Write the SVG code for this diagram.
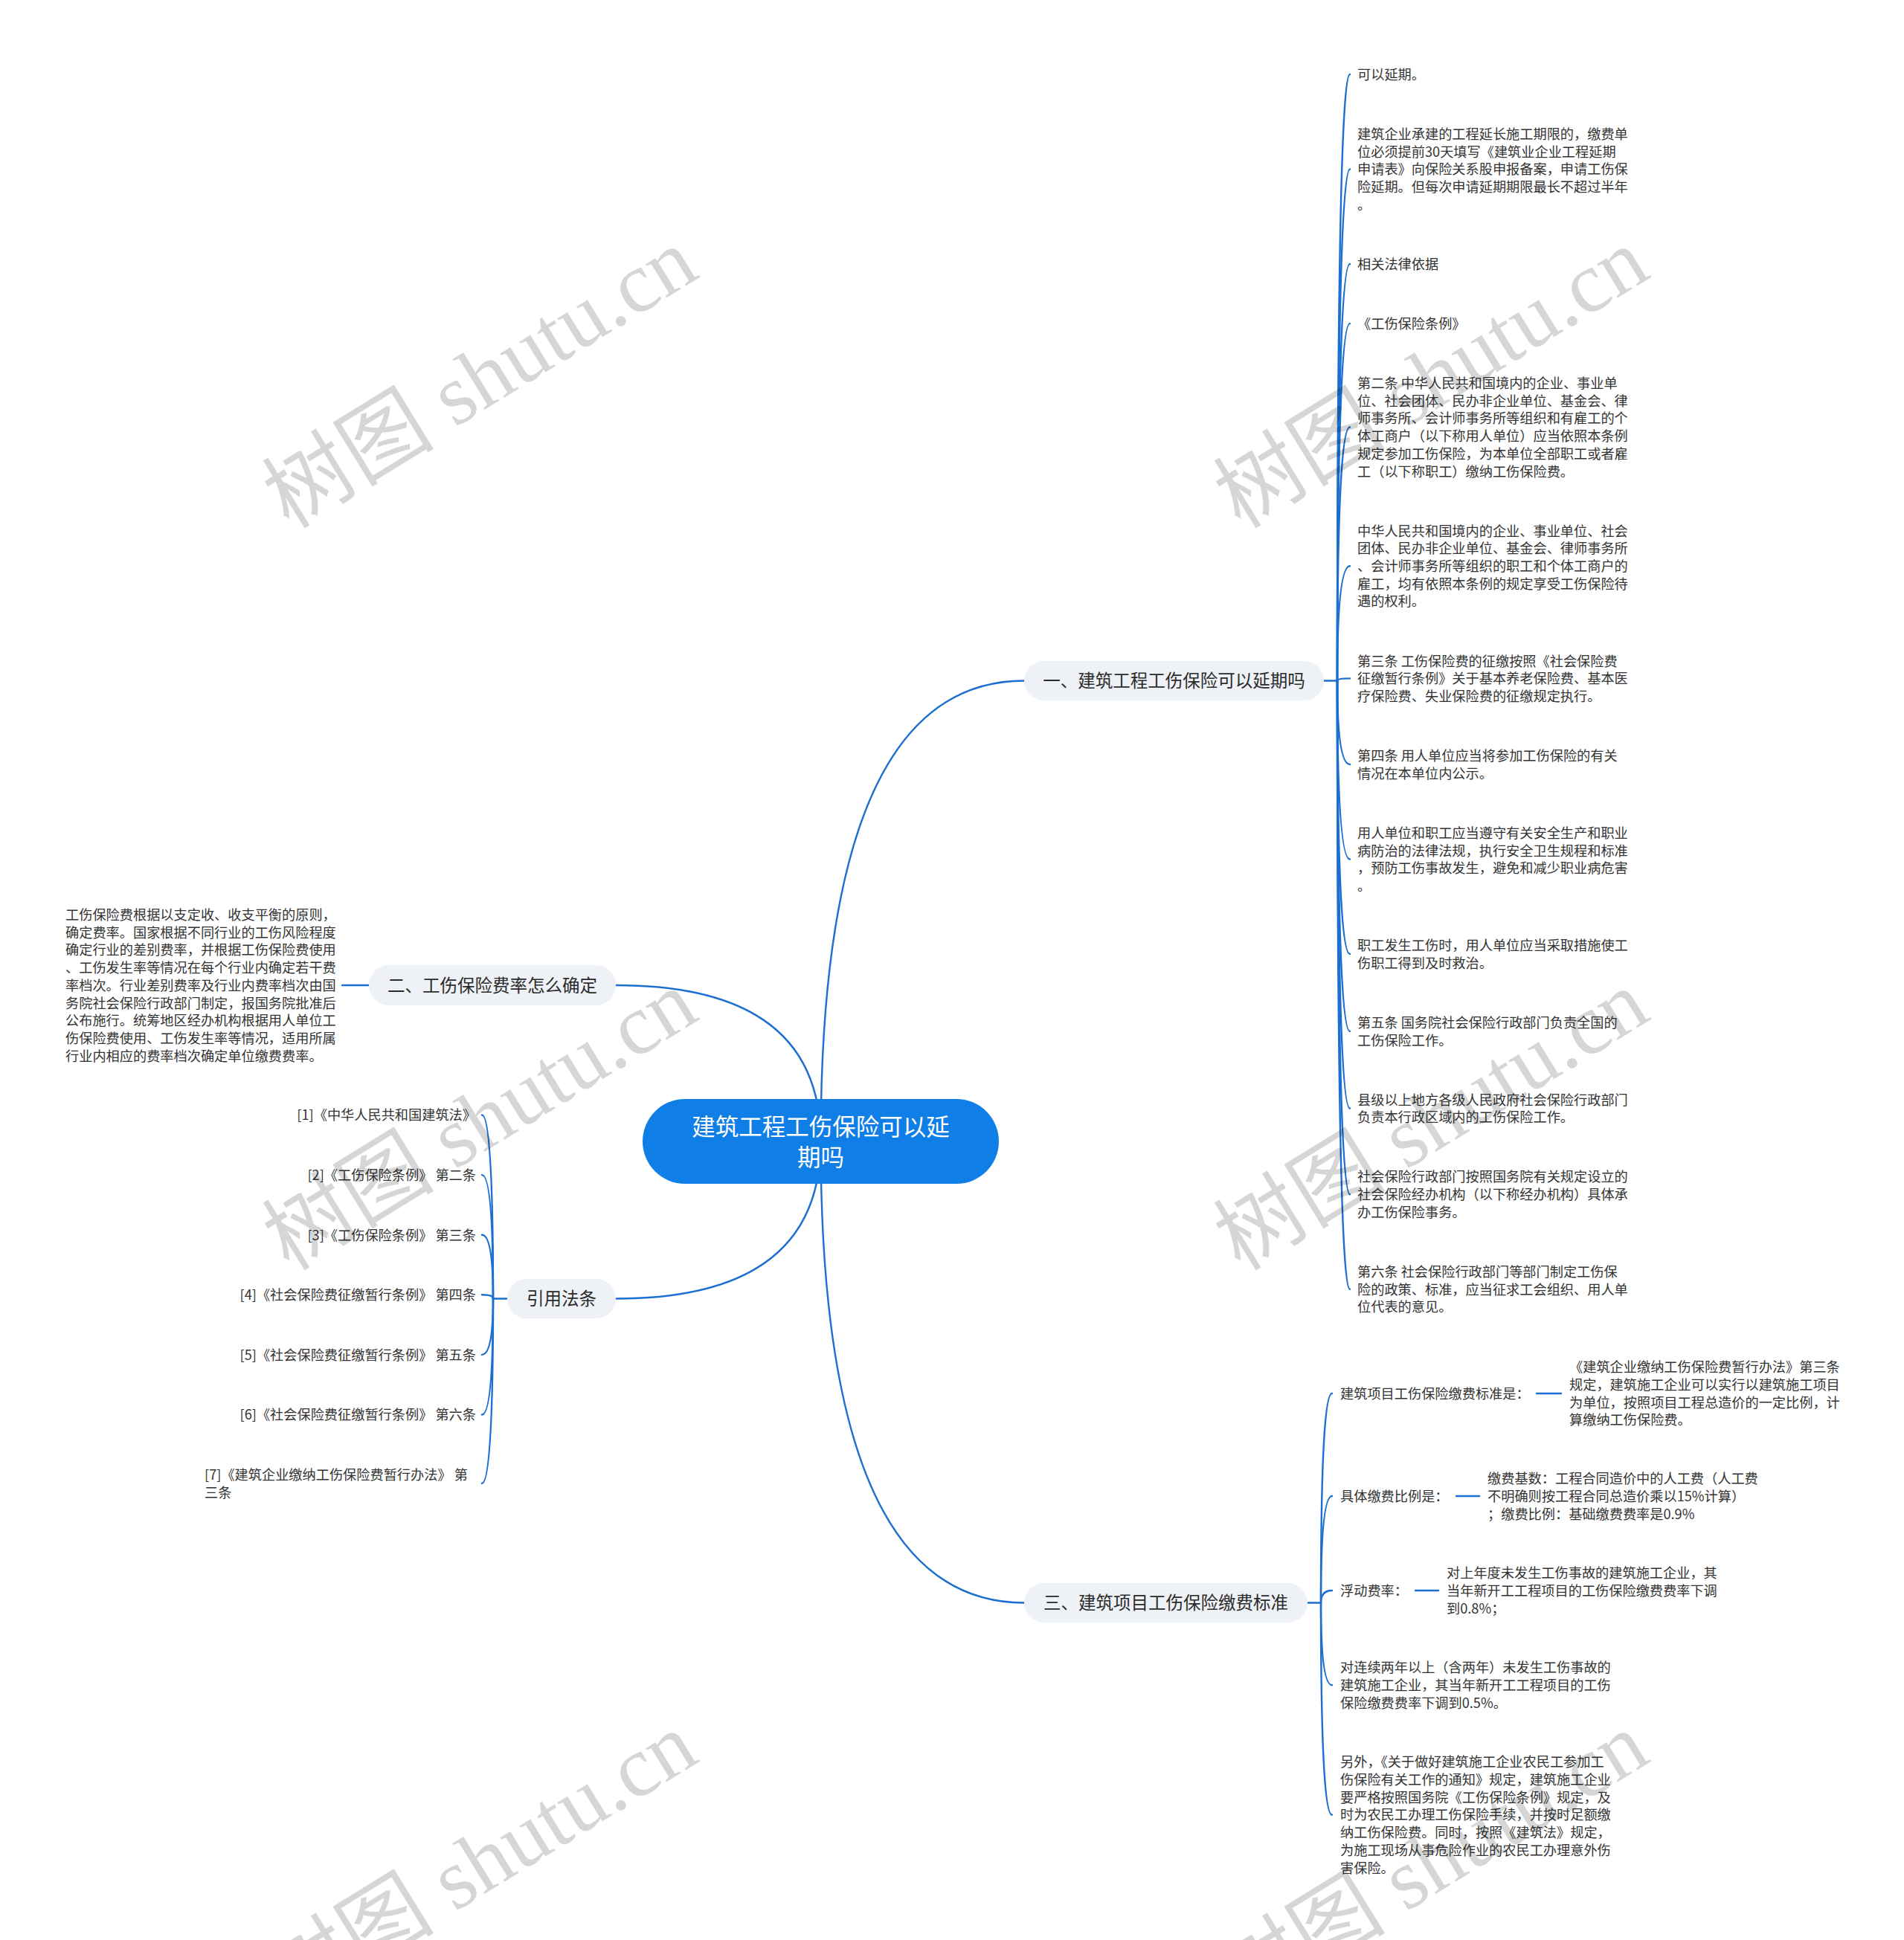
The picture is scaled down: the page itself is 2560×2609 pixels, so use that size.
<svg xmlns="http://www.w3.org/2000/svg" width="2560" height="2609" viewBox="0 0 2560 2609">
<style>
.t{font-family:"Noto Sans CJK SC","Noto Sans",sans-serif;font-size:18.2px;fill:#333}
.pt{font-family:"Noto Sans CJK SC","Noto Sans",sans-serif;font-size:23.5px;fill:#2b2b2b;text-anchor:middle}
.rt{font-family:"Noto Sans CJK SC","Noto Sans",sans-serif;font-size:31.5px;fill:#fff;text-anchor:middle}
.ln{fill:none;stroke:#1c6fd0;stroke-width:2.4;stroke-linecap:round}
.pill{fill:#eef1f5}
.root{fill:#0f7ee6}
.wm{font-family:"Liberation Serif","Noto Sans CJK SC",serif;font-size:116px;fill:#000;fill-opacity:0.16;text-anchor:middle}
.e{text-anchor:end}
</style>
<rect width="2560" height="2609" fill="#fff"/>
<g id="connectors">
<path class="ln" d="M1103.5 1535 Q1103.5 915.5 1377 915.5"/>
<path class="ln" d="M1103.5 1535 Q1103.5 1325 828 1325"/>
<path class="ln" d="M1103.5 1535 Q1103.5 2155.5 1377 2155.5"/>
<path class="ln" d="M1103.5 1535 Q1103.5 1746.5 828 1746.5"/>
<path class="ln" d="M1780 915.5 H1798"/>
<path class="ln" d="M1798 915.5 Q1798 100 1815 100"/>
<path class="ln" d="M1798 915.5 Q1798 227.5 1815 227.5"/>
<path class="ln" d="M1798 915.5 Q1798 355 1815 355"/>
<path class="ln" d="M1798 915.5 Q1798 435.1 1815 435.1"/>
<path class="ln" d="M1798 915.5 Q1798 574.45 1815 574.45"/>
<path class="ln" d="M1798 915.5 Q1798 761.2 1815 761.2"/>
<path class="ln" d="M1798 915.5 Q1798 912.4 1815 912.4"/>
<path class="ln" d="M1798 915.5 Q1798 1028.05 1815 1028.05"/>
<path class="ln" d="M1798 915.5 Q1798 1155.55 1815 1155.55"/>
<path class="ln" d="M1798 915.5 Q1798 1283.05 1815 1283.05"/>
<path class="ln" d="M1798 915.5 Q1798 1386.85 1815 1386.85"/>
<path class="ln" d="M1798 915.5 Q1798 1490.65 1815 1490.65"/>
<path class="ln" d="M1798 915.5 Q1798 1606.3 1815 1606.3"/>
<path class="ln" d="M1798 915.5 Q1798 1733.8 1815 1733.8"/>
<path class="ln" d="M496 1325 H460"/>
<path class="ln" d="M1758 2155.5 H1776"/>
<path class="ln" d="M1776 2155.5 Q1776 1874 1791 1874"/>
<path class="ln" d="M1776 2155.5 Q1776 2012 1791 2012"/>
<path class="ln" d="M1776 2155.5 Q1776 2139 1791 2139"/>
<path class="ln" d="M1776 2155.5 Q1776 2266.2 1791 2266.2"/>
<path class="ln" d="M1776 2155.5 Q1776 2440.6 1791 2440.6"/>
<path class="ln" d="M2066 1874 H2099"/>
<path class="ln" d="M1958 2012 H1989"/>
<path class="ln" d="M1903 2139 H1934"/>
<path class="ln" d="M682 1746.5 H663"/>
<path class="ln" d="M663 1746.5 Q663 1499.5 648 1499.5"/>
<path class="ln" d="M663 1746.5 Q663 1580.1 648 1580.1"/>
<path class="ln" d="M663 1746.5 Q663 1660.7 648 1660.7"/>
<path class="ln" d="M663 1746.5 Q663 1741.3 648 1741.3"/>
<path class="ln" d="M663 1746.5 Q663 1821.9 648 1821.9"/>
<path class="ln" d="M663 1746.5 Q663 1902.5 648 1902.5"/>
<path class="ln" d="M663 1746.5 Q663 1995 648 1995"/>
</g>
<g id="root">
<rect class="root" x="864" y="1478" width="479" height="114" rx="57"/>
<text class="rt" x="1103.5" y="1527">建筑工程工伤保险可以延</text>
<text class="rt" x="1103.5" y="1568">期吗</text>
</g>
<g id="b1">
<rect class="pill" x="1377" y="889" width="403" height="53" rx="26.5"/>
<text class="pt" x="1578.5" y="924">一、建筑工程工伤保险可以延期吗</text>
</g>
<g id="b2">
<rect class="pill" x="496" y="1298" width="332" height="54" rx="27"/>
<text class="pt" x="662" y="1333.5">二、工伤保险费率怎么确定</text>
</g>
<g id="b3">
<rect class="pill" x="1377" y="2129" width="381" height="53" rx="26.5"/>
<text class="pt" x="1567.5" y="2164">三、建筑项目工伤保险缴费标准</text>
</g>
<g id="b4">
<rect class="pill" x="682" y="1720" width="146" height="53" rx="26.5"/>
<text class="pt" x="755" y="1755">引用法条</text>
</g>
<g id="b1-c1"><text class="t" x="1825" y="106.8">可以延期。</text></g>
<g id="b1-c2"><text class="t"><tspan x="1825" y="186.9">建筑企业承建的工程延长施工期限的，缴费单</tspan><tspan x="1825" y="210.6">位必须提前30天填写《建筑业企业工程延期</tspan><tspan x="1825" y="234.3">申请表》向保险关系股申报备案，申请工伤保</tspan><tspan x="1825" y="258">险延期。但每次申请延期期限最长不超过半年</tspan><tspan x="1825" y="281.7">。</tspan></text></g>
<g id="b1-c3"><text class="t" x="1825" y="361.8">相关法律依据</text></g>
<g id="b1-c4"><text class="t" x="1825" y="441.9">《工伤保险条例》</text></g>
<g id="b1-c5"><text class="t"><tspan x="1825" y="522">第二条 中华人民共和国境内的企业、事业单</tspan><tspan x="1825" y="545.7">位、社会团体、民办非企业单位、基金会、律</tspan><tspan x="1825" y="569.4">师事务所、会计师事务所等组织和有雇工的个</tspan><tspan x="1825" y="593.1">体工商户（以下称用人单位）应当依照本条例</tspan><tspan x="1825" y="616.8">规定参加工伤保险，为本单位全部职工或者雇</tspan><tspan x="1825" y="640.5">工（以下称职工）缴纳工伤保险费。</tspan></text></g>
<g id="b1-c6"><text class="t"><tspan x="1825" y="720.6">中华人民共和国境内的企业、事业单位、社会</tspan><tspan x="1825" y="744.3">团体、民办非企业单位、基金会、律师事务所</tspan><tspan x="1825" y="768">、会计师事务所等组织的职工和个体工商户的</tspan><tspan x="1825" y="791.7">雇工，均有依照本条例的规定享受工伤保险待</tspan><tspan x="1825" y="815.4">遇的权利。</tspan></text></g>
<g id="b1-c7"><text class="t"><tspan x="1825" y="895.5">第三条 工伤保险费的征缴按照《社会保险费</tspan><tspan x="1825" y="919.2">征缴暂行条例》关于基本养老保险费、基本医</tspan><tspan x="1825" y="942.9">疗保险费、失业保险费的征缴规定执行。</tspan></text></g>
<g id="b1-c8"><text class="t"><tspan x="1825" y="1023">第四条 用人单位应当将参加工伤保险的有关</tspan><tspan x="1825" y="1046.7">情况在本单位内公示。</tspan></text></g>
<g id="b1-c9"><text class="t"><tspan x="1825" y="1126.8">用人单位和职工应当遵守有关安全生产和职业</tspan><tspan x="1825" y="1150.5">病防治的法律法规，执行安全卫生规程和标准</tspan><tspan x="1825" y="1174.2">，预防工伤事故发生，避免和减少职业病危害</tspan><tspan x="1825" y="1197.9">。</tspan></text></g>
<g id="b1-c10"><text class="t"><tspan x="1825" y="1278">职工发生工伤时，用人单位应当采取措施使工</tspan><tspan x="1825" y="1301.7">伤职工得到及时救治。</tspan></text></g>
<g id="b1-c11"><text class="t"><tspan x="1825" y="1381.8">第五条 国务院社会保险行政部门负责全国的</tspan><tspan x="1825" y="1405.5">工伤保险工作。</tspan></text></g>
<g id="b1-c12"><text class="t"><tspan x="1825" y="1485.6">县级以上地方各级人民政府社会保险行政部门</tspan><tspan x="1825" y="1509.3">负责本行政区域内的工伤保险工作。</tspan></text></g>
<g id="b1-c13"><text class="t"><tspan x="1825" y="1589.4">社会保险行政部门按照国务院有关规定设立的</tspan><tspan x="1825" y="1613.1">社会保险经办机构（以下称经办机构）具体承</tspan><tspan x="1825" y="1636.8">办工伤保险事务。</tspan></text></g>
<g id="b1-c14"><text class="t"><tspan x="1825" y="1716.9">第六条 社会保险行政部门等部门制定工伤保</tspan><tspan x="1825" y="1740.6">险的政策、标准，应当征求工会组织、用人单</tspan><tspan x="1825" y="1764.3">位代表的意见。</tspan></text></g>
<g id="b2-c1"><text class="t"><tspan x="88" y="1237">工伤保险费根据以支定收、收支平衡的原则，</tspan><tspan x="88" y="1260.7">确定费率。国家根据不同行业的工伤风险程度</tspan><tspan x="88" y="1284.4">确定行业的差别费率，并根据工伤保险费使用</tspan><tspan x="88" y="1308.1">、工伤发生率等情况在每个行业内确定若干费</tspan><tspan x="88" y="1331.8">率档次。行业差别费率及行业内费率档次由国</tspan><tspan x="88" y="1355.5">务院社会保险行政部门制定，报国务院批准后</tspan><tspan x="88" y="1379.2">公布施行。统筹地区经办机构根据用人单位工</tspan><tspan x="88" y="1402.9">伤保险费使用、工伤发生率等情况，适用所属</tspan><tspan x="88" y="1426.6">行业内相应的费率档次确定单位缴费费率。</tspan></text></g>
<g id="b3-c1"><text class="t" x="1802" y="1880.8">建筑项目工伤保险缴费标准是：</text></g>
<g id="b3-c1-1"><text class="t"><tspan x="2110" y="1845.3">《建筑企业缴纳工伤保险费暂行办法》第三条</tspan><tspan x="2110" y="1869">规定，建筑施工企业可以实行以建筑施工项目</tspan><tspan x="2110" y="1892.7">为单位，按照项目工程总造价的一定比例，计</tspan><tspan x="2110" y="1916.4">算缴纳工伤保险费。</tspan></text></g>
<g id="b3-c2"><text class="t" x="1802" y="2018.8">具体缴费比例是：</text></g>
<g id="b3-c2-1"><text class="t"><tspan x="2000" y="1995.1">缴费基数：工程合同造价中的人工费（人工费</tspan><tspan x="2000" y="2018.8">不明确则按工程合同总造价乘以15%计算）</tspan><tspan x="2000" y="2042.5">；缴费比例：基础缴费费率是0.9%</tspan></text></g>
<g id="b3-c3"><text class="t" x="1802" y="2145.8">浮动费率：</text></g>
<g id="b3-c3-1"><text class="t"><tspan x="1945" y="2122.1">对上年度未发生工伤事故的建筑施工企业，其</tspan><tspan x="1945" y="2145.8">当年新开工工程项目的工伤保险缴费费率下调</tspan><tspan x="1945" y="2169.5">到0.8%；</tspan></text></g>
<g id="b3-c4"><text class="t"><tspan x="1802" y="2249.3">对连续两年以上（含两年）未发生工伤事故的</tspan><tspan x="1802" y="2273">建筑施工企业，其当年新开工工程项目的工伤</tspan><tspan x="1802" y="2296.7">保险缴费费率下调到0.5%。</tspan></text></g>
<g id="b3-c5"><text class="t"><tspan x="1802" y="2376.3">另外，《关于做好建筑施工企业农民工参加工</tspan><tspan x="1802" y="2400">伤保险有关工作的通知》规定，建筑施工企业</tspan><tspan x="1802" y="2423.7">要严格按照国务院《工伤保险条例》规定，及</tspan><tspan x="1802" y="2447.4">时为农民工办理工伤保险手续，并按时足额缴</tspan><tspan x="1802" y="2471.1">纳工伤保险费。同时，按照《建筑法》规定，</tspan><tspan x="1802" y="2494.8">为施工现场从事危险作业的农民工办理意外伤</tspan><tspan x="1802" y="2518.5">害保险。</tspan></text></g>
<g id="b4-c1"><text class="t e" x="640" y="1506.3">[1]《中华人民共和国建筑法》</text></g>
<g id="b4-c2"><text class="t e" x="640" y="1586.9">[2]《工伤保险条例》 第二条</text></g>
<g id="b4-c3"><text class="t e" x="640" y="1667.5">[3]《工伤保险条例》 第三条</text></g>
<g id="b4-c4"><text class="t e" x="640" y="1748.1">[4]《社会保险费征缴暂行条例》 第四条</text></g>
<g id="b4-c5"><text class="t e" x="640" y="1828.7">[5]《社会保险费征缴暂行条例》 第五条</text></g>
<g id="b4-c6"><text class="t e" x="640" y="1909.3">[6]《社会保险费征缴暂行条例》 第六条</text></g>
<g id="b4-c7"><text class="t"><tspan x="275" y="1989.9">[7]《建筑企业缴纳工伤保险费暂行办法》 第</tspan><tspan x="275" y="2013.6">三条</tspan></text></g>
<g id="watermarks">
<text class="wm" x="645" y="548" transform="rotate(-31.6 645 508)">树图 shutu.cn</text>
<text class="wm" x="1924" y="548" transform="rotate(-31.6 1924 508)">树图 shutu.cn</text>
<text class="wm" x="645" y="1546" transform="rotate(-31.6 645 1506)">树图 shutu.cn</text>
<text class="wm" x="1924" y="1546" transform="rotate(-31.6 1924 1506)">树图 shutu.cn</text>
<text class="wm" x="645" y="2544" transform="rotate(-31.6 645 2504)">树图 shutu.cn</text>
<text class="wm" x="1924" y="2544" transform="rotate(-31.6 1924 2504)">树图 shutu.cn</text>
</g>
</svg>
